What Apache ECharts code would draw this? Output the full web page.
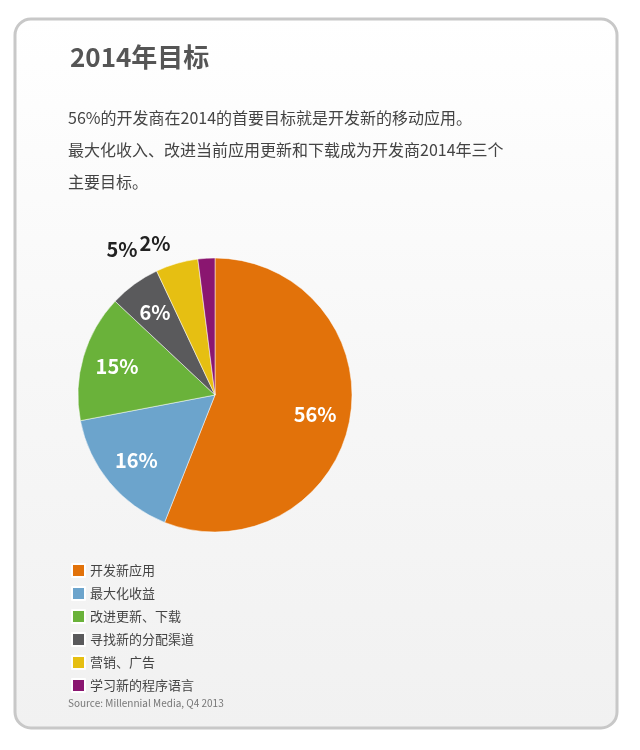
<!DOCTYPE html>
<html><head><meta charset="utf-8">
<script src="https://cdn.jsdelivr.net/npm/echarts@6/dist/echarts.min.js"></script>
<style>html,body{margin:0;padding:0;background:#fff}#main{width:640px;height:750px}</style>
</head><body><div id="main"></div>
<script>
// chart data
const names = ['开发新应用', '最大化收益', '改进更新、下载', '寻找新的分配渠道', '营销、广告', '学习新的程序语言']
const values = [56, 16, 15, 6, 5, 2]
const colors = ['#E2720A', '#6CA4CC', '#6AB23A', '#5A5A5C', '#E6BF12', '#8A1670']
const outside = [false, false, false, false, true, true]

const font = '"Noto Sans CJK SC", "Open Sans", sans-serif'
const chart = echarts.init(document.getElementById('main'))

const pieBase = {
  type: 'pie',
  center: [215, 395],
  startAngle: 90, clockwise: true,
  avoidLabelOverlap: false,
  labelLine: { show: false }
}

chart.setOption({
  animation: false,
  textStyle: { fontFamily: font },
  graphic: [
    {
      type: 'rect', z: -1,
      shape: { x: 15, y: 19, width: 602, height: 709, r: 16 },
      style: {
        stroke: '#c8c8c8', lineWidth: 3,
        fill: new echarts.graphic.LinearGradient(0, 0, 0, 1, [
          { offset: 0, color: '#ffffff' }, { offset: 0.5, color: '#f7f7f7' }, { offset: 1, color: '#f1f1f1' }
        ])
      }
    },
    { type: 'text', left: 70, top: 44, style: { text: '2014年目标', font: 'bold 26px ' + font, fill: '#555' } },
    { type: 'text', left: 68, top: 102, style: { text: '56%的开发商在2014的首要目标就是开发新的移动应用。\n最大化收入、改进当前应用更新和下载成为开发商2014年三个\n主要目标。', font: '16px ' + font, fill: '#444', lineHeight: 32 } },
    { type: 'text', left: 68, top: 698, style: { text: 'Source: Millennial Media, Q4 2013', font: '10px ' + font, fill: '#777' } }
  ],
  legend: {
    orient: 'vertical', left: 66, top: 558,
    itemWidth: 13, itemHeight: 13, itemGap: 8, icon: 'rect',
    textStyle: { fontSize: 13, lineHeight: 13, color: '#444' },
    data: names
  },
  series: [
    Object.assign({}, pieBase, {
      radius: 137,
      itemStyle: { borderColor: '#fff', borderWidth: 0.5 },
      data: names.map((n, i) => ({
        name: n, value: values[i],
        itemStyle: { color: colors[i] },
        label: outside[i]
          ? { show: true, position: 'outside', distance: 6, color: '#222', fontSize: 20, fontWeight: 'bold', formatter: values[i] + '%' }
          : { show: false }
      }))
    }),
    // invisible ring that only carries the inside labels further out
    Object.assign({}, pieBase, {
      radius: [0, 198],
      silent: true, z: 3,
      itemStyle: { color: 'rgba(0,0,0,0)' },
      data: names.map((n, i) => ({
        name: n, value: values[i],
        itemStyle: { color: 'rgba(0,0,0,0)' },
        label: outside[i]
          ? { show: false }
          : { show: true, position: 'inside', color: '#fff', fontSize: 20, fontWeight: 'bold', formatter: values[i] + '%' }
      }))
    })
  ]
})
</script></body></html>
